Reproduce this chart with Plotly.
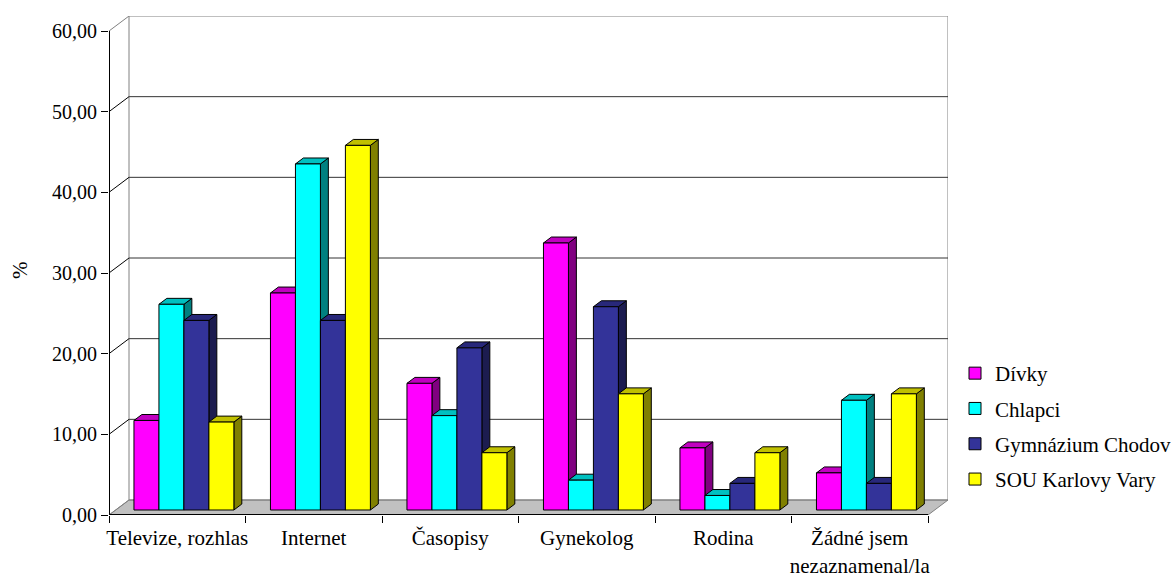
import plotly.graph_objects as go

# --- data -------------------------------------------------------------
categories = [
    "Televize, rozhlas",
    "Internet",
    "Časopisy",
    "Gynekolog",
    "Rodina",
    "Žádné jsem<br>nezaznamenal/la",
]
series_names = ["Dívky", "Chlapci", "Gymnázium Chodov", "SOU Karlovy Vary"]
divky = [11.1, 26.9, 15.7, 33.1, 7.7, 4.6]
chlapci = [25.5, 42.9, 11.7, 3.7, 1.8, 13.6]
gymnazium = [23.5, 23.5, 20.1, 25.2, 3.3, 3.3]
sou = [10.9, 45.2, 7.1, 14.4, 7.1, 14.4]
y_tickvals = [0, 10, 20, 30, 40, 50, 60]
y_ticktext = ["0,00", "10,00", "20,00", "30,00", "40,00", "50,00", "60,00"]

series_values = [divky, chlapci, gymnazium, sou]
# front, top, side shades of each series
series_colors = [
    ("#FF00FF", "#C000C0", "#800080"),
    ("#00FFFF", "#00C0C0", "#008080"),
    ("#333399", "#28287A", "#1C1C50"),
    ("#FFFF00", "#C0C000", "#808000"),
]

# --- pseudo-3D geometry (data units) ------------------------------------
Y_MAX = 60
N = len(categories)
DEPTH_X = 20 / 136.5          # horizontal shift of the back wall
DEPTH_Y = 15 / (484 / 60)     # vertical shift of the back wall
F0, F1 = 1 / 3, 0.73          # depth of bar front / back faces
BAR_W = 0.183
X0, X1 = -0.5, N - 0.5
FONT = "'Liberation Serif', 'Times New Roman', 'DejaVu Serif', serif"


def poly(points):
    xs = [p[0] for p in points] + [points[0][0], None]
    ys = [p[1] for p in points] + [points[0][1], None]
    return xs, ys


fig = go.Figure()

n_ser = len(series_values)
for s, (vals, (c_front, c_top, c_side)) in enumerate(zip(series_values, series_colors)):
    side_x, side_y, top_x, top_y, front_x, front_y = [], [], [], [], [], []
    for c, v in enumerate(vals):
        xl = c - n_ser * BAR_W / 2 + s * BAR_W
        xr = xl + BAR_W
        fx, fy = F0 * DEPTH_X, F0 * DEPTH_Y
        bx, by = F1 * DEPTH_X, F1 * DEPTH_Y
        px, py = poly([(xr + fx, fy), (xr + bx, by), (xr + bx, by + v), (xr + fx, fy + v)])
        side_x += px; side_y += py
        px, py = poly([(xl + fx, fy + v), (xr + fx, fy + v), (xr + bx, by + v), (xl + bx, by + v)])
        top_x += px; top_y += py
        px, py = poly([(xl + fx, fy), (xr + fx, fy), (xr + fx, fy + v), (xl + fx, fy + v)])
        front_x += px; front_y += py
    for xs, ys, col in ((side_x, side_y, c_side), (top_x, top_y, c_top), (front_x, front_y, c_front)):
        fig.add_trace(go.Scatter(
            x=xs, y=ys, mode="lines", fill="toself", fillcolor=col,
            line=dict(color="black", width=1), hoverinfo="skip", showlegend=False,
        ))

# legend entries
for name, (c_front, _, _) in zip(series_names, series_colors):
    fig.add_trace(go.Bar(
        x=[None], y=[None], name=name, legendgroup=name,
        marker=dict(color=c_front, line=dict(color="black", width=1)),
    ))

# --- walls, floor and axis lines -----------------------------------------
shapes = []
floor = (f"M{X0},0 L{X1},0 L{X1 + DEPTH_X},{DEPTH_Y} L{X0 + DEPTH_X},{DEPTH_Y} Z")
shapes.append(dict(type="path", path=floor, xref="x", yref="y", layer="below",
                   fillcolor="#C0C0C0", line=dict(color="#808080", width=1)))
shapes.append(dict(type="rect", xref="x", yref="y", layer="below",
                   x0=X0 + DEPTH_X, x1=X1 + DEPTH_X, y0=DEPTH_Y, y1=Y_MAX + DEPTH_Y,
                   line=dict(color="#808080", width=1)))
for k in y_tickvals[1:-1]:
    shapes.append(dict(type="line", xref="x", yref="y", layer="below",
                       x0=X0 + DEPTH_X, x1=X1 + DEPTH_X, y0=k + DEPTH_Y, y1=k + DEPTH_Y,
                       line=dict(color="#333333", width=1)))
for k in y_tickvals:
    col = "#808080" if k in (0, Y_MAX) else "#000000"
    shapes.append(dict(type="line", xref="x", yref="y", layer="below",
                       x0=X0, x1=X0 + DEPTH_X, y0=k, y1=k + DEPTH_Y,
                       line=dict(color=col, width=1)))
shapes.append(dict(type="line", xref="x", yref="y", layer="below",
                   x0=X0, x1=X0, y0=0, y1=Y_MAX, line=dict(color="black", width=2)))
shapes.append(dict(type="line", xref="x", yref="y", layer="below",
                   x0=X0, x1=X1, y0=0, y1=0, line=dict(color="black", width=2)))

fig.update_layout(
    width=1172, height=578,
    margin=dict(l=109, r=224, t=16, b=63, autoexpand=False),
    paper_bgcolor="white", plot_bgcolor="white",
    shapes=shapes,
    showlegend=True,
    legend=dict(
        x=(955 - 109) / 839, xanchor="left",
        y=(515 - 353) / 499, yanchor="top",
        font=dict(family=FONT, size=21, color="black"),
        bgcolor="rgba(0,0,0,0)", tracegroupgap=5,
    ),
    annotations=[dict(
        text="%", textangle=-90, xref="paper", yref="paper",
        x=(20 - 109) / 839, y=(515 - 270) / 499, showarrow=False,
        xanchor="center", yanchor="middle",
        font=dict(family=FONT, size=21, color="black"),
    )],
)
fig.update_xaxes(
    range=[X0, X1 + DEPTH_X], showgrid=False, zeroline=False, showline=False,
    automargin=False,
    tickmode="array", tickvals=list(range(N)), ticktext=categories,
    ticks="outside", ticklen=4, tickcolor="rgba(0,0,0,0)",
    tickfont=dict(family=FONT, size=21, color="black"),
    minor=dict(tickmode="array", tickvals=[i - 0.5 for i in range(N + 1)],
               ticks="outside", ticklen=7, tickcolor="black", tickwidth=1),
    fixedrange=True,
)
fig.update_yaxes(
    range=[0, Y_MAX + DEPTH_Y], showgrid=False, zeroline=False, showline=False,
    automargin=False,
    tickmode="array", tickvals=y_tickvals, ticktext=y_ticktext,
    ticks="outside", ticklen=7, tickcolor="black",
    tickfont=dict(family=FONT, size=20, color="black"),
    fixedrange=True,
)

fig.write_html("out.html")
